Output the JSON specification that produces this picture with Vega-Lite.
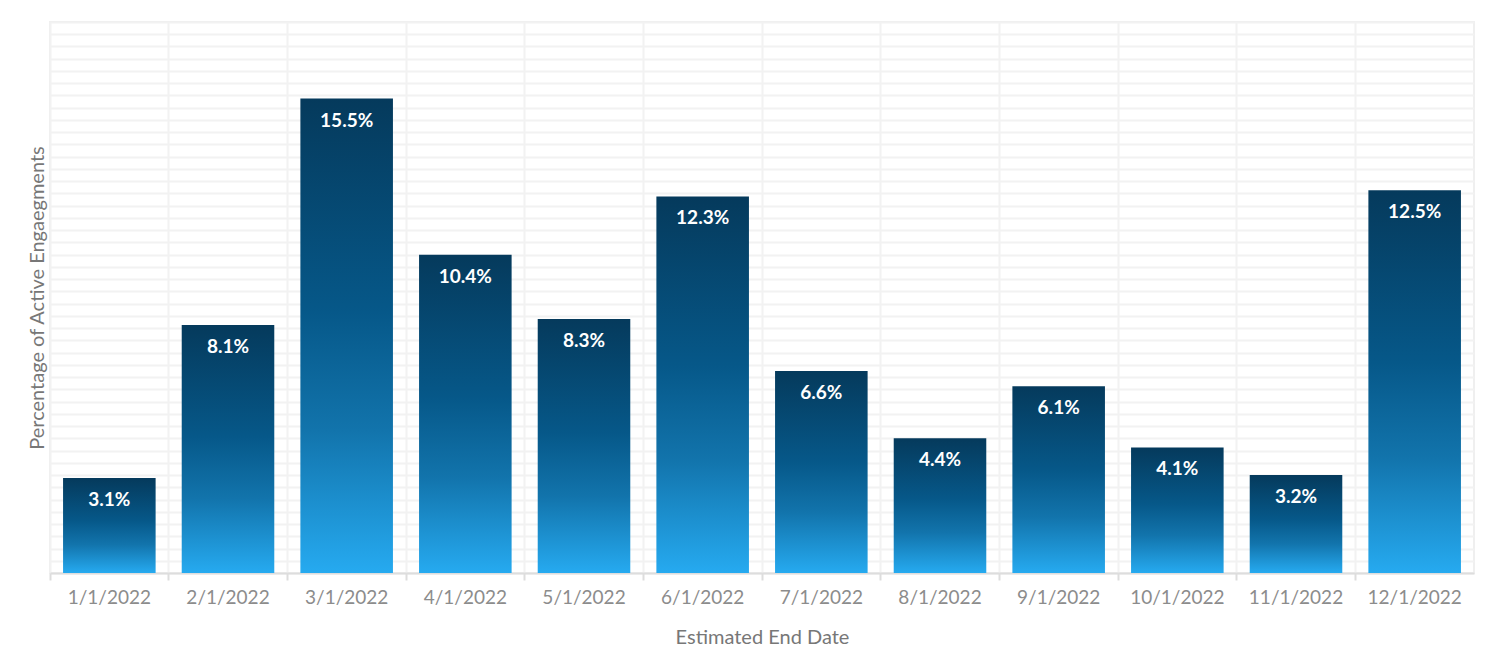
{
  "$schema": "https://vega.github.io/schema/vega-lite/v6.json",
  "width": 1424,
  "height": 551,
  "autosize": {"type": "none"},
  "padding": {"left": 50, "top": 22, "right": 27, "bottom": 87},
  "background": "#ffffff",
  "config": {
    "font": "Lato",
    "view": {"stroke": "#efefef", "strokeWidth": 2}
  },
  "data": {
    "values": [
      {"date": "1/1/2022", "pct": 0.031},
      {"date": "2/1/2022", "pct": 0.081},
      {"date": "3/1/2022", "pct": 0.155},
      {"date": "4/1/2022", "pct": 0.104},
      {"date": "5/1/2022", "pct": 0.083},
      {"date": "6/1/2022", "pct": 0.123},
      {"date": "7/1/2022", "pct": 0.066},
      {"date": "8/1/2022", "pct": 0.044},
      {"date": "9/1/2022", "pct": 0.061},
      {"date": "10/1/2022", "pct": 0.041},
      {"date": "11/1/2022", "pct": 0.032},
      {"date": "12/1/2022", "pct": 0.125}
    ]
  },
  "encoding": {
    "x": {
      "field": "date",
      "type": "nominal",
      "sort": null,
      "scale": {"paddingInner": 0.22, "paddingOuter": 0.11},
      "axis": {
        "title": "Estimated End Date",
        "titleFont": "Lato",
        "titleFontSize": 20,
        "titleFontWeight": "normal",
        "titleColor": "#777777",
        "titlePadding": 20,
        "labelAngle": 0,
        "labelFont": "Lato",
        "labelFontSize": 19,
        "labelColor": "#8c8c8c",
        "labelPadding": 8,
        "bandPosition": -0.141,
        "grid": true,
        "gridColor": "#f2f2f2",
        "gridWidth": 2,
        "domainColor": "#dddddd",
        "domainWidth": 2,
        "tickColor": "#dddddd",
        "tickWidth": 2,
        "tickSize": 7
      }
    },
    "y": {
      "field": "pct",
      "type": "quantitative",
      "scale": {"domain": [0, 0.18], "nice": false},
      "axis": {
        "title": "Percentage of Active Engaegments",
        "titleFont": "Lato",
        "titleFontSize": 20,
        "titleFontWeight": "normal",
        "titleColor": "#777777",
        "titlePadding": 3,
        "labels": false,
        "ticks": false,
        "domain": false,
        "grid": true,
        "gridColor": "#f2f2f2",
        "gridWidth": 2,
        "values": [0,0.004,0.008,0.012,0.016,0.02,0.024,0.028,0.032,0.036,0.04,0.044,0.048,0.052,0.056,0.06,0.064,0.068,0.072,0.076,0.08,0.084,0.088,0.092,0.096,0.1,0.104,0.108,0.112,0.116,0.12,0.124,0.128,0.132,0.136,0.14,0.144,0.148,0.152,0.156,0.16,0.164,0.168,0.172,0.176,0.18]
      }
    }
  },
  "layer": [
    {
      "mark": {
        "type": "bar",
        "color": {
          "gradient": "linear",
          "x1": 0, "y1": 0, "x2": 0, "y2": 1,
          "stops": [
            {"offset": 0, "color": "#053a5c"},
            {"offset": 0.45, "color": "#065889"},
            {"offset": 0.7, "color": "#1274ac"},
            {"offset": 1, "color": "#26aaf0"}
          ]
        }
      }
    },
    {
      "mark": {
        "type": "text",
        "color": "#ffffff",
        "font": "Lato",
        "fontSize": 19,
        "fontWeight": "bold",
        "baseline": "middle",
        "dy": 22
      },
      "encoding": {
        "text": {"field": "pct", "type": "quantitative", "format": ".1%"}
      }
    }
  ]
}
